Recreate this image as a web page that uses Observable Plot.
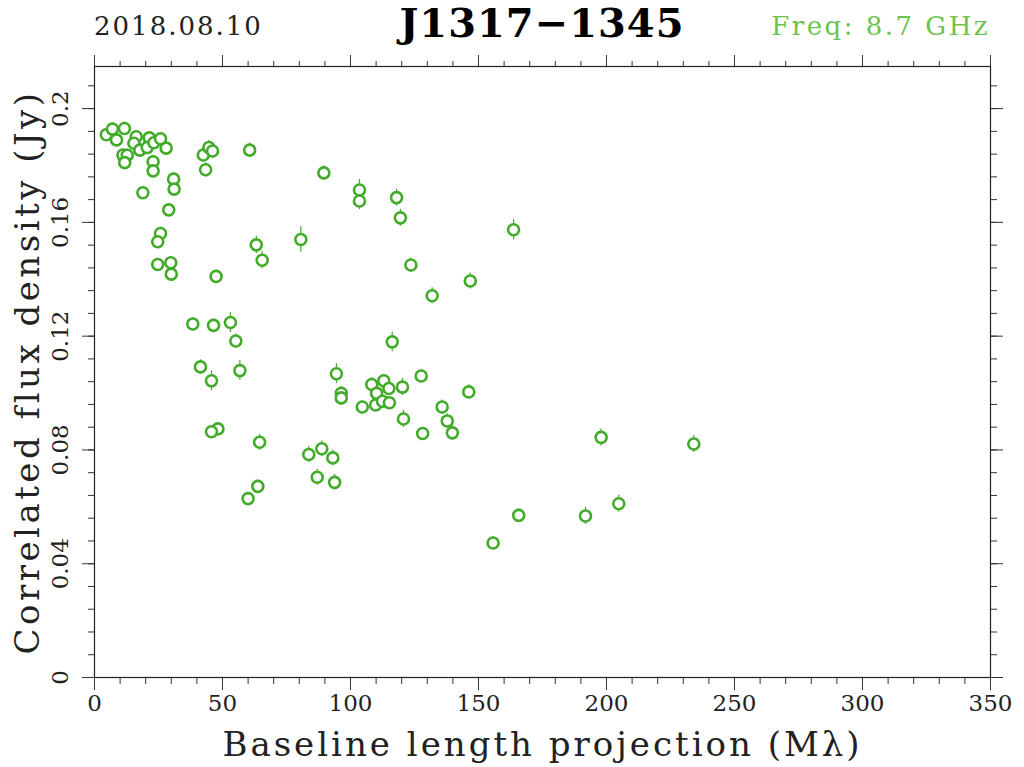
<!DOCTYPE html>
<html>
<head>
<meta charset="utf-8">
<script src="https://cdn.jsdelivr.net/npm/d3@7"></script>
<script src="https://cdn.jsdelivr.net/npm/@observablehq/plot@0.6"></script>
<style>
  html, body { margin: 0; padding: 0; background: white; }
  #wrap { width: 1024px; }
  #header { position: relative; width: 1024px; height: 44px; font-family: "DejaVu Serif", serif; }
  #header div { position: absolute; line-height: 1; white-space: nowrap; }
  #date { left: 94px; top: 13px; font-size: 26px; letter-spacing: 2px; color: #222; }
  #title { left: 94px; width: 896px; top: 3px; text-align: center; font-size: 40px; font-weight: bold; color: #000; letter-spacing: 1px; }
  #freq { right: 34px; top: 13px; font-size: 26px; color: #6cc44e; letter-spacing: 2.5px; }
</style>
</head>
<body>
<div id="wrap">
  <div id="header">
    <div id="date"></div>
    <div id="title"></div>
    <div id="freq"></div>
  </div>
  <div id="chart"></div>
</div>
<script>
const dateText = "2018.08.10";
const titleText = "J1317\u22121345";
const freqText = "Freq: 8.7 GHz";
const xLabel = "Baseline length projection (M\u03bb)";
const yLabel = "Correlated flux density (Jy)";

const xMajor = [0, 50, 100, 150, 200, 250, 300, 350];
const xTickLabels = ["0", "50", "100", "150", "200", "250", "300", "350"];
const yMajor = [0, 0.04, 0.08, 0.12, 0.16, 0.2];
const yTickLabels = ["0", "0.04", "0.08", "0.12", "0.16", "0.2"];

// baseline length projection (Mλ)
const baseline = [4.6,7.0,8.6,11.7,11.1,12.8,11.8,16.3,15.4,17.7,21.4,20.6,23.2,25.8,28.0,22.9,22.9,18.9,30.9,31.1,29.0,25.8,24.7,24.7,29.8,30.0,38.4,46.5,53.1,55.2,41.4,45.7,56.8,48.2,45.7,64.5,63.8,60.0,47.5,42.5,44.7,46.1,43.4,60.6,63.2,65.5,80.6,89.6,103.5,103.5,118.0,119.5,123.6,131.9,146.8,163.7,94.5,96.4,96.4,104.6,108.3,113.0,110.2,115.0,109.8,112.5,115.2,116.3,120.3,127.6,120.7,128.2,135.8,137.8,139.8,146.2,83.7,88.8,93.1,87.0,93.8,197.9,234.1,165.7,155.7,191.8,204.8];
// correlated flux density (Jy)
const flux = [0.1908,0.1928,0.1890,0.1930,0.1837,0.1836,0.1810,0.1901,0.1878,0.1854,0.1897,0.1863,0.1880,0.1894,0.1861,0.1813,0.1781,0.1704,0.1752,0.1717,0.1644,0.1561,0.1532,0.1452,0.1458,0.1418,0.1243,0.1238,0.1248,0.1183,0.1092,0.1043,0.1079,0.0874,0.0864,0.0827,0.0672,0.0629,0.1410,0.1837,0.1863,0.1851,0.1785,0.1854,0.1521,0.1467,0.1540,0.1774,0.1714,0.1675,0.1687,0.1616,0.1450,0.1342,0.1394,0.1574,0.1068,0.0999,0.0983,0.0951,0.1030,0.1043,0.0999,0.1016,0.0958,0.0971,0.0966,0.1180,0.1021,0.1060,0.0909,0.0858,0.0951,0.0902,0.0860,0.1004,0.0784,0.0804,0.0772,0.0704,0.0686,0.0844,0.0821,0.0570,0.0473,0.0568,0.0611];
// flux error (Jy)
const fluxErr = [0.0022,0.0022,0.0022,0.0022,0.0022,0.0022,0.0022,0.0022,0.0022,0.0022,0.0022,0.0022,0.0022,0.0022,0.0022,0.0022,0.0022,0.0022,0.0022,0.0022,0.0022,0.0022,0.0022,0.0022,0.0022,0.0022,0.0022,0.0022,0.0035,0.0025,0.0025,0.0035,0.0035,0.0022,0.0022,0.0028,0.0022,0.0022,0.0022,0.0025,0.0025,0.0025,0.0025,0.0025,0.0030,0.0030,0.0045,0.0025,0.0037,0.0030,0.0030,0.0030,0.0025,0.0028,0.0028,0.0036,0.0035,0.0025,0.0025,0.0022,0.0025,0.0022,0.0025,0.0025,0.0022,0.0022,0.0022,0.0035,0.0030,0.0022,0.0030,0.0022,0.0025,0.0025,0.0025,0.0025,0.0028,0.0028,0.0028,0.0028,0.0028,0.0030,0.0030,0.0022,0.0022,0.0030,0.0030];

const data = baseline.map((b, i) => ({b, f: flux[i], e: fluxErr[i]}));

document.getElementById("date").textContent = dateText;
document.getElementById("title").textContent = titleText;
document.getElementById("freq").textContent = freqText;

const xMinor = d3.range(0, 36).map(i => i * 10);
const yMinor = d3.range(0, 27).map(i => +(i * 0.008).toFixed(3));
const green = "#42ac2a";
const tickColor = "#333";
const blank = () => "";

const chart = Plot.plot({
  width: 1024,
  height: 723,
  marginTop: 22,
  marginRight: 34,
  marginBottom: 90,
  marginLeft: 94,
  x: {domain: [0, 350], label: null},
  y: {domain: [0, 0.2148], label: null},
  style: {fontFamily: "DejaVu Serif", background: "white", color: "#222"},
  marks: [
    Plot.axisX({anchor: "bottom", ticks: xMinor, tickSize: 7, tickFormat: blank, label: null, stroke: tickColor}),
    Plot.axisX({anchor: "bottom", ticks: xMajor, tickSize: 13, tickFormat: blank, label: null, stroke: tickColor}),
    Plot.axisX({anchor: "top", ticks: xMinor, tickSize: 6, tickFormat: blank, label: null, stroke: tickColor}),
    Plot.axisX({anchor: "top", ticks: xMajor, tickSize: 12, tickFormat: blank, label: null, stroke: tickColor}),
    Plot.axisY({anchor: "left", ticks: yMinor, tickSize: 6, tickFormat: blank, label: null, stroke: tickColor}),
    Plot.axisY({anchor: "left", ticks: yMajor, tickSize: 12, tickFormat: blank, label: null, stroke: tickColor}),
    Plot.axisY({anchor: "right", ticks: yMinor, tickSize: 6, tickFormat: blank, label: null, stroke: tickColor}),
    Plot.axisY({anchor: "right", ticks: yMajor, tickSize: 12, tickFormat: blank, label: null, stroke: tickColor}),
    Plot.frame({stroke: "#222", strokeWidth: 1.2}),
    Plot.text(xMajor, {x: d => d, frameAnchor: "bottom", dy: 26, text: (d, i) => xTickLabels[i], fontSize: 23, lineAnchor: "middle", fill: "#222"}),
    Plot.text(yMajor, {y: d => d, frameAnchor: "left", dx: -34, rotate: -90, text: (d, i) => yTickLabels[i], fontSize: 23, textAnchor: "middle", fill: "#222"}),
    Plot.text([xLabel], {frameAnchor: "bottom", dy: 68, text: d => d, fontSize: 34, lineAnchor: "middle", fill: "#222"}),
    Plot.text([yLabel], {frameAnchor: "left", dx: -66, rotate: -90, text: d => d, fontSize: 34, textAnchor: "middle", fill: "#222"}),
    Plot.ruleX(data, {x: "b", y1: d => d.f - d.e, y2: d => d.f + d.e, stroke: green, strokeWidth: 1.2}),
    Plot.dot(data, {x: "b", y: "f", r: 5.5, stroke: green, strokeWidth: 2.6, fill: "white"})
  ]
});
chart.querySelectorAll("text").forEach(t => {
  if (t.textContent === xLabel) t.style.letterSpacing = "3px";
  if (t.textContent === yLabel) t.style.letterSpacing = "3.5px";
});
document.getElementById("chart").appendChild(chart);
</script>
</body>
</html>
